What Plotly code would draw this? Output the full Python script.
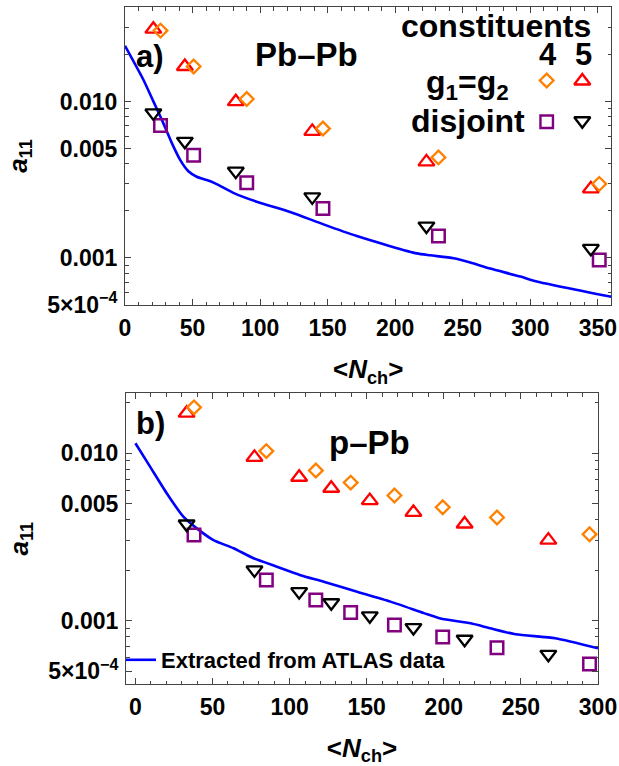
import plotly.graph_objects as go

W, H = 619, 766

# ---------------- Panel a) Pb-Pb ----------------
pb_n5 = [21.0, 44.3, 82.0, 138.6, 223.1, 344.8]      # <N_ch> for 5 constituents
pb_n4 = [26.3, 50.8, 90.1, 146.5, 232.0, 351.0]      # <N_ch> for 4 constituents
pb_eq5 = [0.0291, 0.0168, 0.0100, 0.00646, 0.00412, 0.00277]
pb_eq4 = [0.0285, 0.0168, 0.0104, 0.00673, 0.00440, 0.00298]
pb_dis4 = [0.00703, 0.00454, 0.00303, 0.00207, 0.00138, 0.00097]
pb_dis5 = [0.00847, 0.00558, 0.00359, 0.00246, 0.00160, 0.00115]
pb_atlas_n = [0, 13.6, 21, 27.2, 34.6, 40.7, 46.9, 53.1, 60.5, 66.7, 80.2, 97.5,
              122.2, 146.9, 171.6, 196.3, 216, 225.9, 243.2, 255.6, 270.4, 292.6,
              303.1, 360]
pb_atlas_a = [0.02277, 0.01382, 0.01005, 0.00768, 0.00545, 0.00426, 0.00359,
              0.00331, 0.00315, 0.00300, 0.00261, 0.00229, 0.00197, 0.00164,
              0.00138, 0.00119, 0.00107, 0.00104, 0.000995, 0.000935, 0.000855,
              0.00076, 0.000713, 0.000564]

# ---------------- Panel b) p-Pb ----------------
pp_n5 = [33.2, 77.2, 106.2, 127.0, 152.0, 180.3, 213.5, 267.8]
pp_n4 = [38.0, 84.9, 117.0, 139.6, 168.0, 199.3, 234.5, 294.5]
pp_eq5 = [0.01734, 0.00946, 0.00719, 0.00618, 0.00522, 0.00444, 0.00378, 0.00303]
pp_eq4 = [0.0188, 0.0103, 0.00788, 0.00668, 0.00559, 0.00476, 0.00413, 0.00328]
pp_dis4 = [0.00325, 0.00175, 0.00133, 0.00112, 0.000943, 0.000798, 0.00069, 0.000552]
pp_dis5 = [0.00378, 0.00201, 0.00149, 0.00128, 0.00107, 0.00091, 0.000775, 0.00063]
pp_atlas_n = [0, 9.5, 20.3, 31.1, 39.8, 50.6, 63.6, 76.6, 91.8, 107, 122.1, 143.8,
              165.4, 187.1, 197.9, 217.4, 230.4, 246.6, 272.3, 300]
pp_atlas_a = [0.01147, 0.00832, 0.00577, 0.00418, 0.00356, 0.00303, 0.00271,
              0.00236, 0.0021, 0.00187, 0.00171, 0.00149, 0.0013, 0.00111,
              0.00103, 0.000965, 0.0009, 0.00083, 0.000785, 0.000684]

# tick labels
x_ticks_a = [0, 50, 100, 150, 200, 250, 300, 350]
x_ticks_b = [0, 50, 100, 150, 200, 250, 300]
y_tickvals = [0.0005, 0.001, 0.005, 0.01]
y_ticktext = ["5×10<sup>−4</sup>", "0.001", "0.005", "0.010"]
y_minor = [0.0006, 0.0007, 0.0008, 0.0009, 0.002, 0.003, 0.004, 0.006, 0.007,
           0.008, 0.009, 0.02, 0.03, 0.04]

# legend key (glyph positions in page pixels)
key_sym = ["diamond-open", "triangle-up-open", "square-open", "triangle-down-open"]
key_col = ["#FF8000", "#FF0000", "#800080", "#000000"]
key_x = [546.7, 582.3, 546.7, 582.3]
key_y = [80.5, 81.0, 121.7, 120.7]

RED, ORANGE, PURPLE, BLACK, BLUE = "#FF0000", "#FF8000", "#800080", "#000000", "#0000FF"
FONT = "Liberation Sans, Arial, sans-serif"

fig = go.Figure()


def add_panel(xa, ya, n5, n4, eq5, eq4, dis4, dis5, ln, la, show_leg):
    kw = dict(xaxis=xa, yaxis=ya, mode="markers", showlegend=False, cliponaxis=False)
    fig.add_trace(go.Scatter(x=ln, y=la, xaxis=xa, yaxis=ya, mode="lines",
                             line=dict(color=BLUE, width=2.6, shape="spline", smoothing=0.6),
                             name="Extracted from ATLAS data", showlegend=show_leg))
    fig.add_trace(go.Scatter(x=n5, y=eq5, marker=dict(symbol="triangle-up-open", size=14,
                             color=RED, line=dict(width=2.3, color=RED)), **kw))
    fig.add_trace(go.Scatter(x=n4, y=eq4, marker=dict(symbol="diamond-open", size=10.5,
                             color=ORANGE, line=dict(width=2.3, color=ORANGE)), **kw))
    fig.add_trace(go.Scatter(x=n4, y=dis4, marker=dict(symbol="square-open", size=12.5,
                             color=PURPLE, line=dict(width=2.5, color=PURPLE)), **kw))
    fig.add_trace(go.Scatter(x=n5, y=dis5, marker=dict(symbol="triangle-down-open", size=14,
                             color=BLACK, line=dict(width=2.3, color=BLACK)), **kw))


add_panel("x", "y", pb_n5, pb_n4, pb_eq5, pb_eq4, pb_dis4, pb_dis5, pb_atlas_n, pb_atlas_a, False)
add_panel("x2", "y2", pp_n5, pp_n4, pp_eq5, pp_eq4, pp_dis4, pp_dis5, pp_atlas_n, pp_atlas_a, True)

# legend key glyphs in the top panel
for s, c, xx, yy in zip(key_sym, key_col, key_x, key_y):
    fig.add_trace(go.Scatter(x=[xx], y=[yy], xaxis="x3", yaxis="y3", mode="markers",
                             showlegend=False, cliponaxis=False,
                             marker=dict(symbol=s, size=(10.5 if "diamond" in s else 12.5 if "square" in s else 14),
                                         color=c, line=dict(width=2.4, color=c))))


def px(x):
    return x / W


def py(y):
    return 1 - y / H


FRAME = "#444444"
tickfont = dict(family=FONT, size=23, color="black", weight=700)
titlefont = dict(family=FONT, size=26, color="black", weight=700)


def xaxis(domain, rng, ticks, anchor):
    return dict(domain=domain, range=rng, anchor=anchor, tickvals=ticks,
                ticktext=[str(t) for t in ticks], ticks="inside", ticklen=6,
                tickwidth=1, tickcolor=FRAME, showline=True, linecolor=FRAME,
                linewidth=1, mirror="ticks", showgrid=False, zeroline=False,
                tickfont=tickfont, ticklabelstandoff=2, automargin=False,
                minor=dict(dtick=10, ticks="inside", ticklen=3.5, tickcolor=FRAME,
                           showgrid=False),
                title=dict(text="&lt;<i>N</i><sub>ch</sub>&gt;", font=titlefont, standoff=20))


def yaxis(domain, rng, anchor):
    return dict(domain=domain, range=rng, type="log", anchor=anchor,
                tickvals=y_tickvals, ticktext=y_ticktext, ticks="inside", ticklen=6,
                tickwidth=1, tickcolor=FRAME, showline=True, linecolor=FRAME,
                linewidth=1, mirror="ticks", showgrid=False, zeroline=False,
                tickfont=tickfont, ticklabelstandoff=2, automargin=False,
                minor=dict(tickvals=y_minor, ticks="inside", ticklen=3.5,
                           tickcolor=FRAME, showgrid=False),
                title=dict(text="<i>a</i><sub>11</sub>", font=titlefont, standoff=12))


ann_font = lambda s: dict(family=FONT, size=s, color="black", weight=700)
annotations = [
    dict(text="a)", x=px(150), y=py(56), font=ann_font(31)),
    dict(text="Pb–Pb", x=px(306), y=py(55), font=ann_font(33)),
    dict(text="constituents", x=px(593), y=py(26), xanchor="right", font=ann_font(32)),
    dict(text="4", x=px(548.3), y=py(55), font=ann_font(31)),
    dict(text="5", x=px(583.3), y=py(55), font=ann_font(31)),
    dict(text="g<sub>1</sub>=g<sub>2</sub>", x=px(511), y=py(84), xanchor="right", font=ann_font(32)),
    dict(text="disjoint", x=px(527), y=py(121), xanchor="right", font=ann_font(32)),
    dict(text="b)", x=px(150.5), y=py(423), font=ann_font(31)),
    dict(text="p–Pb", x=px(369), y=py(442), font=ann_font(33)),
]
for a in annotations:
    a.update(xref="paper", yref="paper", showarrow=False, yanchor="middle",
             xanchor=a.get("xanchor", "center"))

fig.update_layout(
    width=W, height=H, margin=dict(l=0, r=0, t=0, b=0, autoexpand=False),
    paper_bgcolor="white", plot_bgcolor="rgba(0,0,0,0)",
    font=dict(family=FONT, color="black"),
    xaxis=xaxis([px(125), px(611.4)], [0, 360], x_ticks_a, "y"),
    yaxis=yaxis([py(305), py(7)], [-3.30103, -1.394], "x"),
    xaxis2=xaxis([px(126), px(598)], [-6.1, 300], x_ticks_b, "y2"),
    yaxis2=yaxis([py(684), py(393.3)], [-3.378, -1.642], "x2"),
    xaxis3=dict(domain=[0, 1], range=[0, W], visible=False, anchor="y3", fixedrange=True),
    yaxis3=dict(domain=[0, 1], range=[H, 0], visible=False, anchor="x3", fixedrange=True),
    showlegend=True,
    legend=dict(x=px(121), y=py(660), xanchor="left", yanchor="middle",
                bgcolor="rgba(0,0,0,0)", borderwidth=0,
                font=dict(family=FONT, size=22, color="black", weight=700)),
    annotations=annotations,
)

fig.write_html("out.html", config={"displayModeBar": False},
               post_script="document.body.style.margin='0';document.body.style.overflow='hidden';")
